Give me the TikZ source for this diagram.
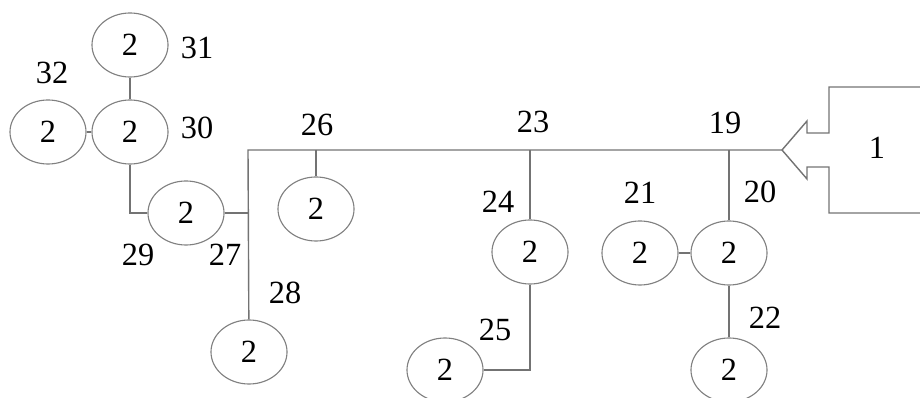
\documentclass[tikz,border=0pt]{standalone}
\usepackage{fontspec}
\setmainfont{Liberation Serif}
\usetikzlibrary{shapes.geometric,positioning,calc}

\begin{document}
\begin{tikzpicture}[x=0.025cm,y=-0.025cm, num/.style={inner sep=0pt,font=\fontsize{23}{26}\selectfont},
		gen/.style={ellipse,draw=black!50,line width=0.8pt,minimum width=1.9cm,minimum height=1.6cm,inner sep=0pt} ]
    \tikzset{line/.style={black!55,line width=1pt}}
    \useasboundingbox (0,0) rectangle (920,398);
    % generators
    \node [gen,num] (g31) at (130,45) {2};
    \node [gen,num] (g30) at (130,132) {2};
    \node [gen,num] (g32) at (48,132) {2};
    \node [gen,num] (g29) at (186,213) {2};
    \node [gen,num] (g26) at (316,209) {2};
    \node [gen,num] (g28) at (249,352) {2};
    \node [gen,num] (g24) at (530,252) {2};
    \node [gen,num] (g25) at (445,370) {2};
    \node [gen,num] (g21) at (640,253) {2};
    \node [gen,num] (g20) at (729,253) {2};
    \node [gen,num] (g22) at (729,370) {2};
    % bus points
    \coordinate (b27) at (248,150);
    \coordinate (b26) at (316,150);
    \coordinate (b23) at (530,150);
    \coordinate (b19) at (729,150);
    \coordinate (tip) at (782,150);
    \draw [line] (tip) -- (b27) -- (g28);
    \draw [line] (b26) -- (g26);
    \draw [line] (b23) -- (g24);
    \draw [line] (b19) -- (g20);
    \draw [line] (g29) -- (g29 -| b27);
    \draw [line] (g30) |- (g29);
    \draw [line] (g31) -- (g30);
    \draw [line] (g32) -- (g30);
    \draw [line] (g24) |- (g25);
    \draw [line] (g21) -- (g20);
    \draw [line] (g20) -- (g22);
    % source block
    \draw [line] (tip) -- ++(25,-29) -- ++(0,12) -- ++(22,0) -- ++(0,-46) -- ++(95,0);
    \draw [line] (tip) -- ++(25,29) -- ++(0,-12) -- ++(22,0) -- ++(0,46) -- ++(95,0);
    \node [num] (src) at (877,148) {1};
    % numbers
    \node [num] (l31) at (197,48) {31};
    \node [num] (l32) at (52,73) {32};
    \node [num] (l30) at (197,128) {30};
    \node [num] (l26) at (317,125) {26};
    \node [num] (l29) at (138,255) {29};
    \node [num] (l27) at (225,255) {27};
    \node [num] (l28) at (285,293) {28};
    \node [num] (l23) at (533,122) {23};
    \node [num] (l24) at (498,202) {24};
    \node [num] (l25) at (495,330) {25};
    \node [num] (l19) at (725,123) {19};
    \node [num] (l21) at (640,193) {21};
    \node [num] (l20) at (760,192) {20};
    \node [num] (l22) at (765,318) {22};
  \end{tikzpicture}
\end{document}
